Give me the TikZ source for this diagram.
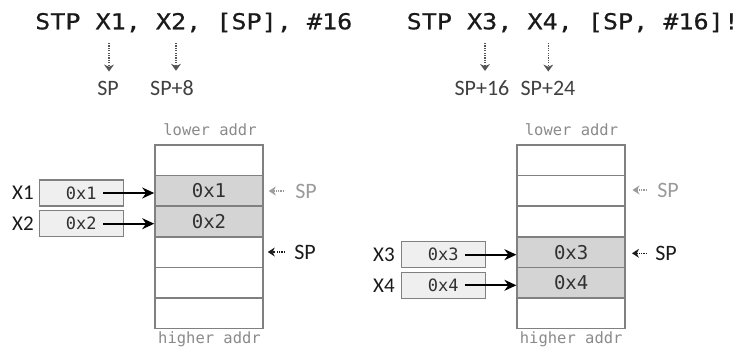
\documentclass[tikz,border=0pt]{standalone}
\usepackage{fontspec}
\setmainfont{Carlito}
\newfontfamily\titlefont[FakeStretch=1.14,FakeBold=0.6]{DejaVu Sans Mono}
\newfontfamily\monofont{DejaVu Sans Mono}
\usetikzlibrary{arrows.meta}
\definecolor{txt}{HTML}{1A1A1A}
\definecolor{lbltxt}{HTML}{404040}
\definecolor{dotc}{HTML}{555555}
\definecolor{border}{HTML}{808080}
\definecolor{cellfill}{HTML}{D4D4D4}
\definecolor{regfill}{HTML}{EFEFEF}
\definecolor{addrtxt}{HTML}{8A8A8A}
\definecolor{oldsp}{HTML}{9A9A9A}
\tikzset{
  titletxt/.style={anchor=base west, inner sep=0pt, text=txt, font=\titlefont\fontsize{22}{26}\selectfont},
  lbl/.style={inner sep=0pt, text=lbltxt, font=\fontsize{22}{26}\selectfont},
  dotarrow/.style={draw=dotc, line width=1.3pt, dash pattern=on 1.3pt off 1.1pt, -{Stealth[length=7pt,width=10pt,fill=dotc,line width=0pt]}},
  cell/.style={draw=border, line width=1.6pt, minimum width=108pt, minimum height=30.6pt, inner sep=0pt, text=txt!90, font=\monofont\fontsize{19}{21}\selectfont},
  fullcell/.style={cell, fill=cellfill},
  reg/.style={draw=border, line width=1.5pt, fill=regfill, minimum width=84pt, minimum height=26pt, inner sep=0pt, text=txt!90, font=\monofont\fontsize{17}{19}\selectfont},
  regname/.style={inner sep=0pt, text=txt, font=\fontsize{21}{24}\selectfont},
  addr/.style={inner sep=0pt, text=addrtxt, font=\monofont\fontsize{15.5}{18}\selectfont},
  arr/.style={draw=black, line width=1.8pt, -{Stealth[length=12pt,width=11pt]}},
  sparrow/.style={dotarrow},
}
\begin{document}
\begin{tikzpicture}[x=1pt,y=-1pt]
\useasboundingbox (0,0) rectangle (739,350);

% ---------- titles ----------
\node[titletxt] (t1) at (35,29.3) {STP X1, X2, [SP], \#16};
\node[titletxt] (t2) at (406.5,29.3) {STP X3, X4, [SP, \#16]!};

% ---------- address labels under titles ----------
\node[lbl, anchor=base] (a1) at (108,96) {SP};
\node[lbl, anchor=base] (a2) at (172,96) {SP+8};
\node[lbl, anchor=base] (a3) at (482,96) {SP+16};
\node[lbl, anchor=base] (a4) at (548,96) {SP+24};
\coordinate (d1) at (109,43);
\coordinate (d2) at (176,43);
\coordinate (d3) at (485,43);
\coordinate (d4) at (548.3,43);
\draw[dotarrow, shorten >=10pt] (d1) -- (d1 |- a1.north);
\draw[dotarrow, shorten >=10pt] (d2) -- (d2 |- a2.north);
\draw[dotarrow, shorten >=10pt] (d3) -- (d3 |- a3.north);
\draw[dotarrow, shorten >=10pt] (d4) -- (d4 |- a4.north);

% ---------- left stack ----------
\node[cell]     (L1) at (209,160.3) {};
\node[fullcell] (L2) at (209,190.9) {0x1};
\node[fullcell] (L3) at (209,221.5) {0x2};
\node[cell]     (L4) at (209,252.1) {};
\node[cell]     (L5) at (209,282.7) {};
\node[cell]     (L6) at (209,313.3) {};
\node[addr] (lo1) at (210,130) {lower addr};
\node[addr] (hi1) at (209.5,339.5) {higher addr};

% registers left
\node[reg] (x1) at (81.3,193) {0x1};
\node[reg] (x2) at (81.3,223.7) {0x2};
\node[regname] (n1) at (23,193) {X1};
\node[regname] (n2) at (23,223.7) {X2};
\draw[arr] ([xshift=22pt]x1.center) -- (L2.west |- x1.center);
\draw[arr] ([xshift=22pt]x2.center) -- (L3.west |- x2.center);

% SP markers left
\node[lbl, text=oldsp] (sp1) at (306,191) {SP};
\node[lbl, text=txt] (sp2) at (305,252) {SP};
\draw[sparrow, draw=oldsp, -{Stealth[length=7pt,width=9pt,fill=oldsp,line width=0pt]}] ([xshift=-11pt]sp1.west) -- ([xshift=5pt]L2.east |- sp1.west);
\draw[sparrow, draw=txt, -{Stealth[length=7pt,width=9pt,fill=txt,line width=0pt]}] ([xshift=-9pt]sp2.west) -- ([xshift=4pt]L4.east |- sp2.west);

% ---------- right stack ----------
\node[cell]     (R1) at (571.2,160.3) {};
\node[cell]     (R2) at (571.2,190.9) {};
\node[cell]     (R3) at (571.2,221.5) {};
\node[fullcell] (R4) at (571.2,252.1) {0x3};
\node[fullcell] (R5) at (571.2,282.7) {0x4};
\node[cell]     (R6) at (571.2,313.3) {};
\node[addr] (lo2) at (571.5,130) {lower addr};
\node[addr] (hi2) at (571.2,339.5) {higher addr};

% registers right
\node[reg] (x3) at (443.3,254.7) {0x3};
\node[reg] (x4) at (443.3,285.3) {0x4};
\node[regname] (n3) at (384,254.7) {X3};
\node[regname] (n4) at (384,285.3) {X4};
\draw[arr] ([xshift=21.7pt]x3.center) -- (R4.west |- x3.center);
\draw[arr] ([xshift=21.7pt]x4.center) -- (R5.west |- x4.center);

% SP markers right
\node[lbl, text=oldsp] (sp3) at (668,190) {SP};
\node[lbl, text=txt] (sp4) at (666,253.3) {SP};
\draw[sparrow, draw=oldsp, -{Stealth[length=7pt,width=9pt,fill=oldsp,line width=0pt]}] ([xshift=-10pt]sp3.west) -- ([xshift=6.5pt]R2.east |- sp3.west);
\draw[sparrow, draw=txt, -{Stealth[length=7pt,width=9pt,fill=txt,line width=0pt]}] ([xshift=-8pt]sp4.west) -- ([xshift=6pt]R4.east |- sp4.west);
\end{tikzpicture}
\end{document}
